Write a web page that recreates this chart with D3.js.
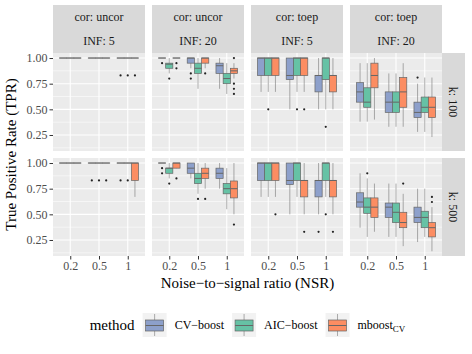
<!DOCTYPE html>
<html>
<head>
<meta charset="utf-8">
<script src="https://cdn.jsdelivr.net/npm/d3@7"></script>
<style>
body { margin: 0; background: #fff; }
svg, svg text { font-family: "Liberation Serif", "DejaVu Serif", serif; }
svg { display: block; }
</style>
</head>
<body>
<script>

// facet levels
let cors = ["uncor", "uncor", "toep", "toep"]
let infs = [5, 20, 5, 20]
let ks = [100, 500]
let nsrs = ["0.2", "0.5", "1"]
let methods = ["CV-boost", "AIC-boost", "mboost"]
let yTicks = [0.25, 0.5, 0.75, 1]

// box stats per panel, rows ordered nsr x method: [lo, q1, median, q3, hi, outliers]
let uncor5_k100 = [
    [1, 1, 1, 1, 1, []], [1, 1, 1, 1, 1, []], [1, 1, 1, 1, 1, []],
    [1, 1, 1, 1, 1, []], [1, 1, 1, 1, 1, []], [1, 1, 1, 1, 1, []],
    [1, 1, 1, 1, 1, [0.83]], [1, 1, 1, 1, 1, [0.83]], [1, 1, 1, 1, 1, [0.83]]
]
let uncor20_k100 = [
    [1, 1, 1, 1, 1, [0.95]], [0.85, 0.9, 0.94, 0.95, 1, [0.8]], [1, 1, 1, 1, 1, [0.95, 0.9]],
    [0.9, 0.95, 1, 1, 1, [0.85, 0.8]], [0.7, 0.85, 0.9, 0.95, 1, []], [0.9, 0.95, 1, 1, 1, [0.85]],
    [0.7, 0.85, 0.925, 0.95, 1, []], [0.65, 0.75, 0.8, 0.85, 0.95, []], [0.8, 0.85, 0.875, 0.9, 0.95, [1, 0.75, 0.7, 0.65]]
]
let toep5_k100 = [
    [0.67, 0.83, 1, 1, 1, []], [0.67, 0.83, 1, 1, 1, [0.5]], [0.67, 0.83, 1, 1, 1, []],
    [0.5, 0.79, 0.83, 1, 1, []], [0.67, 0.83, 1, 1, 1, [0.5]], [0.67, 0.83, 1, 1, 1, [0.5]],
    [0.5, 0.67, 0.83, 0.83, 1, []], [0.5, 0.79, 1, 1, 1, [0.33]], [0.5, 0.67, 0.83, 0.83, 1, []]
]
let toep20_k100 = [
    [0.38, 0.57, 0.67, 0.76, 0.95, []], [0.38, 0.52, 0.57, 0.71, 0.95, []], [0.4, 0.71, 0.83, 0.95, 1, []],
    [0.33, 0.47, 0.57, 0.67, 0.85, []], [0.33, 0.47, 0.57, 0.67, 0.85, []], [0.33, 0.52, 0.67, 0.81, 0.95, []],
    [0.28, 0.42, 0.47, 0.57, 0.75, [0.81]], [0.28, 0.47, 0.52, 0.62, 0.81, []], [0.23, 0.42, 0.52, 0.62, 0.81, []]
]
let uncor5_k500 = [
    [1, 1, 1, 1, 1, []], [1, 1, 1, 1, 1, []], [1, 1, 1, 1, 1, []],
    [1, 1, 1, 1, 1, [0.83]], [1, 1, 1, 1, 1, [0.83]], [1, 1, 1, 1, 1, [0.83]],
    [1, 1, 1, 1, 1, [0.83]], [1, 1, 1, 1, 1, [0.83]], [0.67, 0.83, 1, 1, 1, []]
]
let uncor20_k500 = [
    [1, 1, 1, 1, 1, [0.95, 0.9]], [0.85, 0.9, 0.95, 0.95, 1, [0.8]], [0.95, 0.95, 1, 1, 1, [0.85]],
    [0.85, 0.9, 0.95, 1, 1, []], [0.7, 0.8, 0.85, 0.9, 1, [0.65]], [0.75, 0.85, 0.9, 0.95, 1, [0.65]],
    [0.75, 0.85, 0.9, 0.95, 1, []], [0.55, 0.7, 0.75, 0.8, 0.95, []], [0.5, 0.66, 0.75, 0.825, 1, [0.4]]
]
let toep5_k500 = [
    [0.67, 0.83, 1, 1, 1, []], [0.67, 0.83, 1, 1, 1, []], [0.67, 0.83, 1, 1, 1, [0.5]],
    [0.5, 0.79, 0.83, 1, 1, []], [0.67, 0.83, 1, 1, 1, []], [0.5, 0.67, 0.83, 0.83, 1, [0.33]],
    [0.5, 0.67, 0.83, 0.83, 1, [0.33]], [0.67, 0.83, 1, 1, 1, [0.5]], [0.5, 0.67, 0.83, 0.83, 1, [0.33]]
]
let toep20_k500 = [
    [0.37, 0.57, 0.62, 0.71, 0.9, []], [0.28, 0.51, 0.57, 0.66, 0.85, [0.9]], [0.33, 0.47, 0.57, 0.66, 0.8, []],
    [0.28, 0.47, 0.57, 0.61, 0.8, []], [0.28, 0.42, 0.52, 0.61, 0.8, []], [0.19, 0.37, 0.42, 0.52, 0.7, [0.8]],
    [0.23, 0.42, 0.47, 0.57, 0.75, []], [0.28, 0.37, 0.47, 0.53, 0.75, []], [0.14, 0.28, 0.37, 0.42, 0.57, [0.67, 0.62]]
]

let panels = [
    [uncor5_k100, uncor20_k100, toep5_k100, toep20_k100],
    [uncor5_k500, uncor20_k500, toep5_k500, toep20_k500]
]

let width = 472
let height = 354
let padLeft = 53
let padTop = 53
let pw = 92
let ph = 98
let gap = 7
let stripH = 24
let serif = '"Liberation Serif", "DejaVu Serif", serif'

let svg = d3.select("body")
            .append("svg")
            .attr("width", width)
            .attr("height", height)

let x = d3.scalePoint()
            .domain(nsrs)
            .range([0, pw])
            .padding(0.6)

let dodge = d3.scaleBand()
            .domain(methods)
            .range([-0.375 * x.step(), 0.375 * x.step()])

let y = d3.scaleLinear()
            .domain([0.094, 1.049])
            .range([ph, 0])

let color = d3.scaleOrdinal()
            .domain(methods)
            .range(["#8DA0CB", "#66C2A5", "#FC8D62"])

let boxStroke = "#666"

let drawBox = (g, cx, bw, s, fill) => {
    g.append("line")
        .attr("x1", cx).attr("x2", cx)
        .attr("y1", y(s[4])).attr("y2", y(s[0]))
        .attr("stroke", "#777")
        .attr("stroke-width", 0.6)
    g.append("rect")
        .attr("x", cx - bw / 2)
        .attr("width", bw)
        .attr("y", y(s[3]))
        .attr("height", Math.max(0.01, y(s[1]) - y(s[3])))
        .attr("fill", fill)
        .attr("stroke", boxStroke)
        .attr("stroke-width", 0.7)
    g.append("line")
        .attr("x1", cx - bw / 2).attr("x2", cx + bw / 2)
        .attr("y1", y(s[2])).attr("y2", y(s[2]))
        .attr("stroke", boxStroke)
        .attr("stroke-width", 1)
    s[5].forEach(o => {
        g.append("circle")
            .attr("cx", cx)
            .attr("cy", y(o))
            .attr("r", 1.1)
            .attr("fill", "#222")
    })
}

panels.forEach((row, r) => {
    row.forEach((stats, c) => {
        let px = padLeft + c * (pw + gap)
        let py = padTop + r * (ph + gap)
        let g = svg.append("g").attr("transform", "translate(" + px + "," + py + ")")

        g.append("rect").attr("width", pw).attr("height", ph).attr("fill", "#EBEBEB")

        let minor = [0.125, 0.375, 0.625, 0.875]
        g.selectAll(".minor").data(minor).enter().append("line")
            .attr("x1", 0).attr("x2", pw)
            .attr("y1", d => y(d)).attr("y2", d => y(d))
            .attr("stroke", "#fff").attr("stroke-width", 0.55)
        g.selectAll(".major").data(yTicks).enter().append("line")
            .attr("x1", 0).attr("x2", pw)
            .attr("y1", d => y(d)).attr("y2", d => y(d))
            .attr("stroke", "#fff").attr("stroke-width", 1.1)
        g.selectAll(".vmajor").data(nsrs).enter().append("line")
            .attr("x1", d => x(d)).attr("x2", d => x(d))
            .attr("y1", 0).attr("y2", ph)
            .attr("stroke", "#fff").attr("stroke-width", 1.1)

        nsrs.forEach((n, i) => {
            methods.forEach((m, j) => {
                let cx = x(n) + dodge(m) + dodge.bandwidth() / 2
                drawBox(g, cx, dodge.bandwidth(), stats[i * 3 + j], color(m))
            })
        })

        if (r == 0) {
            let labels = ["cor: " + cors[c], "INF: " + infs[c]]
            labels.forEach((t, k) => {
                let sy = padTop - 2 * stripH + k * stripH
                svg.append("rect")
                    .attr("x", px).attr("y", sy)
                    .attr("width", pw).attr("height", stripH)
                    .attr("fill", "#D9D9D9")
                svg.append("text")
                    .attr("x", px + pw / 2).attr("y", sy + stripH / 2)
                    .attr("dy", "0.35em")
                    .attr("text-anchor", "middle")
                    .attr("font-size", 12)
                    .attr("fill", "#1A1A1A")
                    .text(t)
            })
        }

        if (c == 0) {
            let yAxis = d3.axisLeft(y)
                        .tickValues(yTicks)
                        .tickFormat(d3.format(".2f"))
                        .tickSize(3.5)
                        .tickPadding(2)
            let ga = g.append("g").call(yAxis)
            ga.select(".domain").remove()
            ga.selectAll("line").attr("stroke", "#333")
            ga.selectAll("text")
                .attr("fill", "#4D4D4D")
                .style("font-family", serif)
                .style("font-size", "12px")
        }

        if (r == panels.length - 1) {
            let xAxis = d3.axisBottom(x).tickSize(3.5).tickPadding(2)
            let ga = g.append("g").attr("transform", "translate(0," + ph + ")").call(xAxis)
            ga.select(".domain").remove()
            ga.selectAll("line").attr("stroke", "#333")
            ga.selectAll("text")
                .attr("fill", "#4D4D4D")
                .style("font-family", serif)
                .style("font-size", "12px")
        }
    })

    let sx = padLeft + 4 * (pw + gap) - gap
    let sy = padTop + r * (ph + gap)
    svg.append("rect")
        .attr("x", sx).attr("y", sy)
        .attr("width", 23).attr("height", ph)
        .attr("fill", "#D9D9D9")
    svg.append("text")
        .attr("transform", "translate(" + (sx + 11.5) + "," + (sy + ph / 2) + ") rotate(90)")
        .attr("dy", "0.35em")
        .attr("text-anchor", "middle")
        .attr("font-size", 12)
        .attr("fill", "#1A1A1A")
        .text("k: " + ks[r])
})

let panelsRight = padLeft + 4 * (pw + gap) - gap
let panelsBottom = padTop + 2 * ph + gap

svg.append("text")
    .attr("x", (padLeft + panelsRight) / 2)
    .attr("y", 288)
    .attr("text-anchor", "middle")
    .attr("font-size", 15)
    .attr("fill", "#000")
    .text("Noise\u2212to\u2212signal ratio (NSR)")

svg.append("text")
    .attr("transform", "translate(16," + ((padTop + panelsBottom) / 2) + ") rotate(-90)")
    .attr("text-anchor", "middle")
    .attr("font-size", 15)
    .attr("fill", "#000")
    .text("True Positive Rate (TPR)")

// legend
let legend = svg.append("g")
let keySize = 24
let ly = 313
let cursor = 0

let title = legend.append("text")
    .attr("x", 0).attr("y", ly + keySize / 2)
    .attr("dy", "0.35em")
    .attr("font-size", 15)
    .text("method")
cursor = title.node().getComputedTextLength() + 8

methods.forEach((m, i) => {
    let kg = legend.append("g").attr("transform", "translate(" + cursor + "," + ly + ")")
    kg.append("rect").attr("width", keySize).attr("height", keySize).attr("fill", "#F2F2F2")
    kg.append("line")
        .attr("x1", keySize / 2).attr("x2", keySize / 2)
        .attr("y1", 1).attr("y2", keySize - 1)
        .attr("stroke", "#777").attr("stroke-width", 0.6)
    kg.append("rect")
        .attr("x", 3).attr("y", 7)
        .attr("width", keySize - 6).attr("height", keySize - 13)
        .attr("fill", color(m))
        .attr("stroke", boxStroke).attr("stroke-width", 0.7)
    kg.append("line")
        .attr("x1", 3).attr("x2", keySize - 3)
        .attr("y1", 12.5).attr("y2", 12.5)
        .attr("stroke", boxStroke).attr("stroke-width", 1)
    cursor += keySize + 8

    let lab = legend.append("text")
        .attr("x", cursor).attr("y", ly + keySize / 2)
        .attr("dy", "0.35em")
        .attr("font-size", 12)
    if (m == "mboost") {
        lab.append("tspan").text("mboost")
        lab.append("tspan").attr("font-size", 9).attr("dy", "0.3em").text("CV")
    } else {
        lab.text(m.replace("-", "\u2212"))
    }
    cursor += lab.node().getComputedTextLength() + 8
})

let legendW = cursor - 8
legend.attr("transform", "translate(" + ((padLeft + panelsRight) / 2 - legendW / 2) + ",0)")

</script>
</body>
</html>
